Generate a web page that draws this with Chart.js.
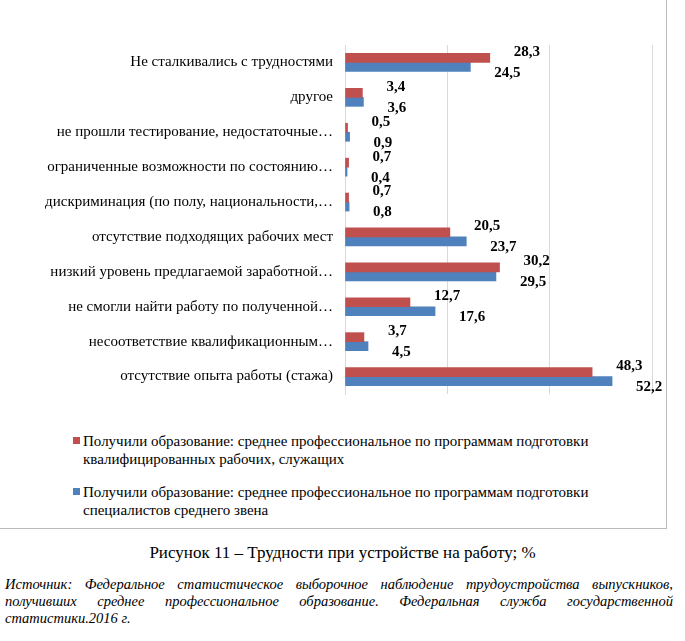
<!DOCTYPE html>
<html><head><meta charset="utf-8">
<script src="https://cdn.jsdelivr.net/npm/chart.js@4"></script>
<style>
body{margin:0;background:#fff;font-family:"Times New Roman","Liberation Serif","DejaVu Serif",serif;color:#000}
#frame{position:absolute;left:0;top:0;width:666px;height:528px;border-right:1px solid #bbb;border-bottom:1px solid #bbb}
#wrap{position:absolute;left:0;top:32px;width:666px;height:375px}
.leg{position:absolute;left:83px;font-size:15px;line-height:18px}
.leg i{position:absolute;left:-10px;top:5px;width:7px;height:7px}
#cap{position:absolute;top:543px;width:685px;text-align:center;font-size:17px}
#src{position:absolute;left:5px;top:576px;width:668px;font-size:14.5px;font-style:italic;text-align:justify;line-height:17px}
</style></head><body>
<div id="frame"></div>
<div id="wrap"><canvas id="c"></canvas></div>
<div class="leg" style="top:432px"><i style="background:#c0504d"></i>Получили образование: среднее профессиональное по программам подготовки<br>квалифицированных рабочих, служащих</div>
<div class="leg" style="top:483px"><i style="background:#4f81bd"></i>Получили образование: среднее профессиональное по программам подготовки<br>специалистов среднего звена</div>
<div id="cap">Рисунок 11 – Трудности при устройстве на работу; %</div>
<div id="src">Источник: Федеральное статистическое выборочное наблюдение трудоустройства выпускников, получивших среднее профессиональное образование. Федеральная служба государственной статистики.2016 г.</div>
<script>
const categories = [
  'Не сталкивались с трудностями',
  'другое',
  'не прошли тестирование, недостаточные…',
  'ограниченные возможности по состоянию…',
  'дискриминация (по полу, национальности,…',
  'отсутствие подходящих рабочих мест',
  'низкий уровень предлагаемой заработной…',
  'не смогли найти работу по полученной…',
  'несоответствие квалификационным…',
  'отсутствие опыта работы (стажа)'
];
const workersValues = [28.3, 3.4, 0.5, 0.7, 0.7, 20.5, 30.2, 12.7, 3.7, 48.3];
const specialistsValues = [24.5, 3.6, 0.9, 0.4, 0.8, 23.7, 29.5, 17.6, 4.5, 52.2];

const serif = '"Times New Roman", "Liberation Serif", "DejaVu Serif", serif';

const valueLabels = {
  id: 'valueLabels',
  afterDatasetsDraw(chart) {
    const ctx = chart.ctx;
    ctx.save();
    ctx.font = 'bold 15px ' + serif;
    ctx.fillStyle = '#000';
    ctx.textBaseline = 'middle';
    chart.data.datasets.forEach((ds, di) => {
      chart.getDatasetMeta(di).data.forEach((bar, i) => {
        const dy = di === 0 ? -6 : 6;
        ctx.fillText(String(ds.data[i]).replace('.', ','), bar.x + 24, bar.y + dy);
      });
    });
    ctx.restore();
  }
};

new Chart(document.getElementById('c'), {
  type: 'bar',
  data: {
    labels: categories,
    datasets: [
      { label: 'рабочие', data: workersValues, backgroundColor: '#c0504d', barThickness: 9 },
      { label: 'специалисты', data: specialistsValues, backgroundColor: '#4f81bd', barThickness: 9 }
    ]
  },
  options: {
    indexAxis: 'y',
    responsive: true,
    maintainAspectRatio: false,
    animation: false,
    layout: { padding: { right: 14, bottom: 10 } },
    plugins: { legend: { display: false }, tooltip: { enabled: false } },
    scales: {
      x: {
        min: 0, max: 60,
        ticks: { stepSize: 20, display: false },
        grid: { color: '#d9d9d9', drawTicks: false },
        border: { display: false }
      },
      y: {
        afterFit(scale) { scale.width = 345; },
        ticks: { color: '#000', font: { family: serif, size: 15 }, padding: 4 },
        grid: { display: false },
        border: { color: '#d9d9d9' }
      }
    }
  },
  plugins: [valueLabels]
});
</script>
</body></html>
